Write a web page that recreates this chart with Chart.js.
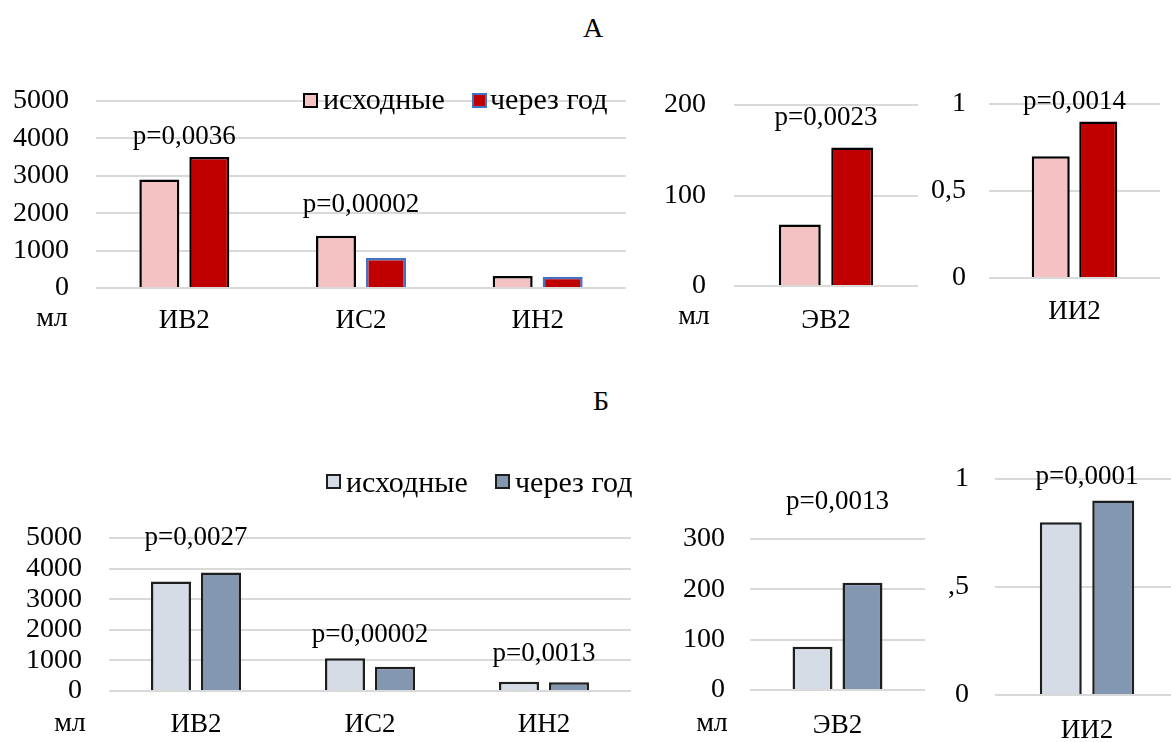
<!DOCTYPE html>
<html>
<head>
<meta charset="utf-8">
<script src="https://cdn.jsdelivr.net/npm/chart.js@4.4.1/dist/chart.umd.min.js"></script>
<style>
  html, body { margin: 0; padding: 0; background: #ffffff; }
  body { position: relative; width: 1171px; height: 742px; overflow: hidden; font-family: "Liberation Serif", "Times New Roman", serif; }
  .box { position: absolute; z-index: 1; }
  .txt { position: absolute; z-index: 2; color: #000; white-space: nowrap; line-height: 1; font-family: "Liberation Serif", "Times New Roman", serif; }
  .sq { position: absolute; z-index: 2; box-sizing: border-box; width: 15px; height: 15px; border: 2px solid #000; }
</style>
</head>
<body>

<div class="txt" style="left:593px; top:28px; font-size:28px; transform:translate(-50%,-50%)">А</div>
<div class="txt" style="left:601px; top:401px; font-size:28px; transform:translate(-50%,-50%)">Б</div>

<div class="txt" style="left:52px; top:317px; font-size:28px; transform:translate(-50%,-50%)">мл</div>
<div class="txt" style="left:694px; top:315px; font-size:28px; transform:translate(-50%,-50%)">мл</div>
<div class="txt" style="left:70px; top:722px; font-size:28px; transform:translate(-50%,-50%)">мл</div>
<div class="txt" style="left:712px; top:722px; font-size:28px; transform:translate(-50%,-50%)">мл</div>

<div id="legA"></div>
<div id="legB"></div>

<!-- each box: chart area placed at (yW, 50) inside the box -->
<div class="box" style="left:0px; top:51px; width:630px; height:292px"><canvas id="cA1"></canvas></div>
<div class="box" style="left:634px; top:55px; width:288px; height:286px"><canvas id="cA2"></canvas></div>
<div class="box" style="left:919px; top:54px; width:245px; height:279px"><canvas id="cA3"></canvas></div>
<div class="box" style="left:0px; top:488px; width:635px; height:258px"><canvas id="cB1"></canvas></div>
<div class="box" style="left:660px; top:489px; width:269px; height:256px"><canvas id="cB2"></canvas></div>
<div class="box" style="left:935px; top:429px; width:248px; height:321px"><canvas id="cB3"></canvas></div>

<script>
// ---------------- data ----------------
const categoriesMain = ['ИВ2', 'ИС2', 'ИН2'];
const categoriesEV = ['ЭВ2'];
const categoriesII = ['ИИ2'];
const seriesNames = ['исходные', 'через год'];

// Panel А
const aMainBase = [2900, 1400, 320];
const aMainYear = [3500, 800, 300];
const aEVBase = [68];
const aEVYear = [153];
const aIIBase = [0.70];
const aIIYear = [0.90];
const aMainP = ['p=0,0036', 'p=0,00002', ''];
const aEVP = ['p=0,0023'];
const aIIP = ['p=0,0014'];

// Panel Б
const bMainBase = [3580, 1070, 305];
const bMainYear = [3870, 790, 290];
const bEVBase = [86];
const bEVYear = [213];
const bIIBase = [0.80];
const bIIYear = [0.90];
const bMainP = ['p=0,0027', 'p=0,00002', 'p=0,0013'];
const bEVP = ['p=0,0013'];
const bIIP = ['p=0,0001'];

// tick labels
const ticksMain = ['0', '1000', '2000', '3000', '4000', '5000'];
const ticksA_EV = ['0', '100', '200'];
const ticksB_EV = ['0', '100', '200', '300'];
const ticksA_II = ['0', '0,5', '1'];
const ticksB_II = ['0', ',5', '1'];

// ---------------- styles ----------------
const FONT = "'Liberation Serif', 'Times New Roman', serif";
Chart.defaults.font.family = FONT;
Chart.defaults.color = '#000';
const colA = { base: '#f4c2c2', year: '#c00000', edge: '#000000', blue: '#4472c4' };
const colB = { base: '#d6dce5', year: '#8497b0', edge: '#1e1e1e' };
const PAD_TOP = 50;

// p-value labels plugin (positioned from the bars' own scale positions)
const pLabelPlugin = {
  id: 'pLabels',
  afterDatasetsDraw(chart, args, opts) {
    const texts = opts.texts || [];
    const offs = opts.offsets || [];
    const ctx = chart.ctx;
    ctx.save();
    ctx.font = opts.size + 'px ' + FONT;
    ctx.fillStyle = '#000';
    ctx.textAlign = 'center';
    ctx.textBaseline = 'middle';
    texts.forEach((t, i) => {
      if (!t) return;
      let top = Infinity;
      chart.data.datasets.forEach((d, di) => {
        const el = chart.getDatasetMeta(di).data[i];
        if (el) top = Math.min(top, el.y);
      });
      const x = chart.scales.x.getPixelForValue(i);
      ctx.fillText(t, x, top - (offs[i] || 0));
    });
    ctx.restore();
  }
};

function makeChart(id, o) {
  const ctx = document.getElementById(id);
  return new Chart(ctx, {
    type: 'bar',
    data: {
      labels: o.labels,
      datasets: [
        { label: seriesNames[0], data: o.base, backgroundColor: o.col.base, borderColor: o.baseEdge, borderWidth: 2.5,
          barPercentage: 0.8, categoryPercentage: o.cat },
        { label: seriesNames[1], data: o.year, backgroundColor: o.col.year, borderColor: o.yearEdge, borderWidth: 2.5,
          barPercentage: 0.8, categoryPercentage: o.cat }
      ]
    },
    options: {
      responsive: true,
      maintainAspectRatio: false,
      animation: false,
      layout: { padding: { top: PAD_TOP, right: 4, left: 0, bottom: 0 } },
      plugins: {
        legend: { display: false },
        tooltip: { enabled: false },
        pLabels: { texts: o.p, offsets: o.pOff, size: 27 }
      },
      scales: {
        x: {
          grid: { display: false, drawTicks: false },
          border: { display: false },
          ticks: { font: { size: 27 }, padding: o.xPad, color: '#000', autoSkip: false },
          afterFit: (s) => { s.height = o.xH; }
        },
        y: {
          min: o.min, max: o.max,
          grid: { color: '#d9d9d9', lineWidth: 2, drawTicks: false },
          border: { display: false },
          ticks: { stepSize: o.step, font: { size: 28, lineHeight: 0.8 }, padding: o.yPad, color: '#000',
                   autoSkip: false, maxTicksLimit: 20,
                   callback: (v, i) => o.tickLabels[i] },
          afterFit: (s) => { s.width = o.yW; }
        }
      }
    },
    plugins: [pLabelPlugin]
  });
}

// Panel А charts
makeChart('cA1', { labels: categoriesMain, base: aMainBase, year: aMainYear, col: colA,
  baseEdge: colA.edge, yearEdge: [colA.edge, colA.blue, colA.blue], cat: 0.566,
  min: 0, max: 5000, step: 1000, tickLabels: ticksMain,
  yW: 96, yPad: 27, xH: 55, xPad: 17, p: aMainP, pOff: [20, 31, 0] });
makeChart('cA2', { labels: categoriesEV, base: aEVBase, year: aEVYear, col: colA,
  baseEdge: colA.edge, yearEdge: colA.edge, cat: 0.57,
  min: 0, max: 200, step: 100, tickLabels: ticksA_EV,
  yW: 100, yPad: 28, xH: 55, xPad: 19, p: aEVP, pOff: [30] });
makeChart('cA3', { labels: categoriesII, base: aIIBase, year: aIIYear, col: colA,
  baseEdge: colA.edge, yearEdge: colA.edge, cat: 0.556,
  min: 0, max: 1, step: 0.5, tickLabels: ticksA_II,
  yW: 70, yPad: 23, xH: 55, xPad: 18, p: aIIP, pOff: [19] });

// Panel Б charts
makeChart('cB1', { labels: categoriesMain, base: bMainBase, year: bMainYear, col: colB,
  baseEdge: colB.edge, yearEdge: colB.edge, cat: 0.575,
  min: 0, max: 5000, step: 1000, tickLabels: ticksMain,
  yW: 109, yPad: 27, xH: 55, xPad: 18, p: bMainP, pOff: [35, 23, 28] });
makeChart('cB2', { labels: categoriesEV, base: bEVBase, year: bEVYear, col: colB,
  baseEdge: colB.edge, yearEdge: colB.edge, cat: 0.571,
  min: 0, max: 300, step: 100, tickLabels: ticksB_EV,
  yW: 90, yPad: 25, xH: 55, xPad: 20, p: bEVP, pOff: [81] });
makeChart('cB3', { labels: categoriesII, base: bIIBase, year: bIIYear, col: colB,
  baseEdge: colB.edge, yearEdge: colB.edge, cat: 0.57,
  min: 0, max: 1, step: 0.5, tickLabels: ticksB_II,
  yW: 60, yPad: 26, xH: 55, xPad: 20, p: bIIP, pOff: [24] });

// HTML legends built from the series names and colours
function legend(el, items) {
  const host = document.getElementById(el);
  items.forEach(it => {
    const sq = document.createElement('div');
    sq.className = 'sq';
    sq.style.left = it.sx + 'px'; sq.style.top = it.sy + 'px';
    sq.style.background = it.fill; sq.style.borderColor = it.edge;
    host.appendChild(sq);
    const t = document.createElement('div');
    t.className = 'txt';
    t.style.left = it.tx + 'px'; t.style.top = it.ty + 'px';
    t.style.fontSize = '30px'; t.style.transform = 'translateY(-50%)';
    t.textContent = it.text;
    host.appendChild(t);
  });
}
legend('legA', [
  { sx: 303, sy: 93, fill: colA.base, edge: colA.edge, tx: 323, ty: 99, text: seriesNames[0] },
  { sx: 472, sy: 93, fill: colA.year, edge: colA.blue, tx: 490, ty: 99, text: seriesNames[1] }
]);
legend('legB', [
  { sx: 326, sy: 474, fill: colB.base, edge: colB.edge, tx: 346, ty: 482, text: seriesNames[0] },
  { sx: 495, sy: 474, fill: colB.year, edge: colB.edge, tx: 515, ty: 482, text: seriesNames[1] }
]);
</script>
</body>
</html>
